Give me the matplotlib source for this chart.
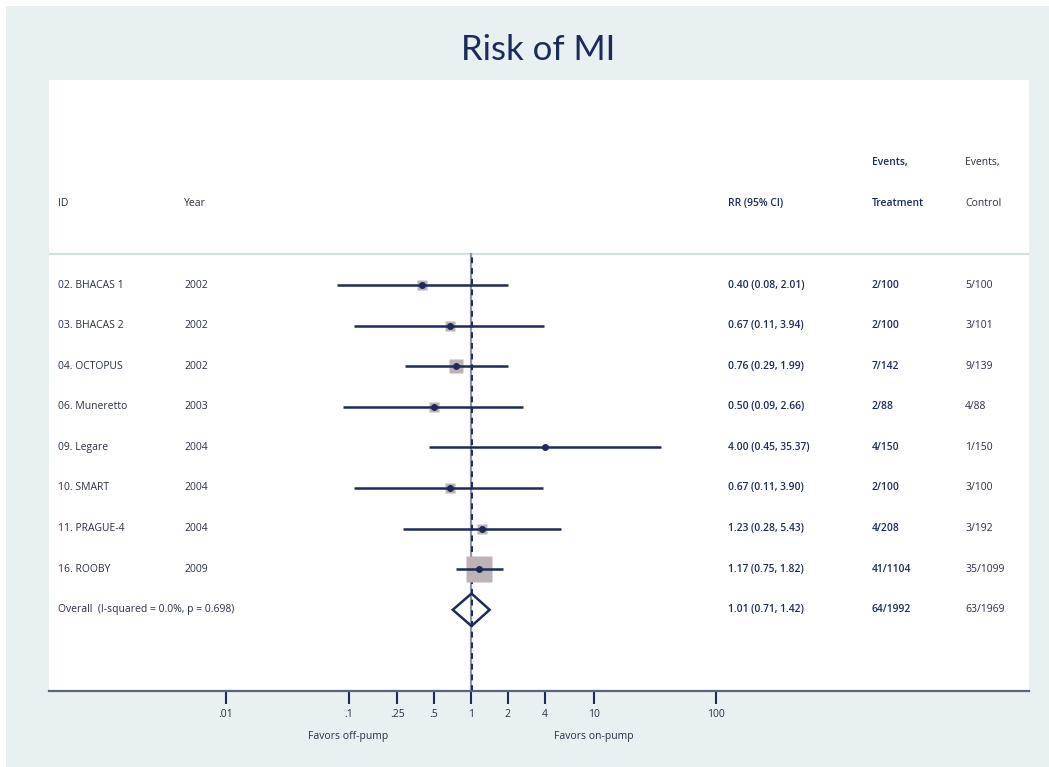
import numpy as np
import matplotlib
matplotlib.use("Agg")
import matplotlib.pyplot as plt
from matplotlib.patches import Polygon, Rectangle
from matplotlib.transforms import blended_transform_factory

# ---------------- data ----------------
study_ids = ["02. BHACAS 1", "03. BHACAS 2", "04. OCTOPUS", "06. Muneretto",
             "09. Legare", "10. SMART", "11. PRAGUE-4", "16. ROOBY"]
years = ["2002", "2002", "2002", "2003", "2004", "2004", "2004", "2009"]
rr = [0.40, 0.67, 0.76, 0.50, 4.00, 0.67, 1.23, 1.17]
ci_low = [0.08, 0.11, 0.29, 0.09, 0.45, 0.11, 0.28, 0.75]
ci_high = [2.01, 3.94, 1.99, 2.66, 35.37, 3.90, 5.43, 1.82]
weights = [7.9, 7.1, 16.0, 7.1, 1.1, 7.1, 6.4, 47.0]
events_treat = ["2/100", "2/100", "7/142", "2/88", "4/150", "2/100", "4/208", "41/1104"]
events_ctrl = ["5/100", "3/101", "9/139", "4/88", "1/150", "3/100", "3/192", "35/1099"]

overall_label = "Overall  (I-squared = 0.0%, p = 0.698)"
overall_rr = 1.01
overall_low = 0.71
overall_high = 1.42
overall_treat = "64/1992"
overall_ctrl = "63/1969"

tick_values = [0.01, 0.1, 0.25, 0.5, 1, 2, 4, 10, 100]
tick_labels = [".01", ".1", ".25", ".5", "1", "2", "4", "10", "100"]
favors_left = "Favors off-pump"
favors_right = "Favors on-pump"
title = "Risk of MI"

# ---------------- styling ----------------
W, H, DPI = 1049, 767, 100
NAVY = "#1c2b5a"
TXT = "#2a2f45"
BOXC = "#bdb3b5"
BG = "#e8f0f2"
FONT = ["Open Sans", "DejaVu Sans"]
plt.rcParams["font.family"] = FONT

fig = plt.figure(figsize=(W / DPI, H / DPI), dpi=DPI, facecolor=BG)
# thin white border at top and left
fig.patches.append(Rectangle((0, 1 - 6 / H), 1, 6 / H, transform=fig.transFigure,
                             facecolor="white", edgecolor="none", zorder=0))
fig.patches.append(Rectangle((0, 0), 6 / W, 1, transform=fig.transFigure,
                             facecolor="white", edgecolor="none", zorder=0))

px_left, px_right, px_top, px_bottom = 49, 1029, 80, 691
ax = fig.add_axes([px_left / W, 1 - px_bottom / H, (px_right - px_left) / W,
                   (px_bottom - px_top) / H])
ax.set_facecolor("white")

# x: log scale, 1 at pixel 471, 122.5 px per decade
dec = 122.5
x_one = 471
ax.set_xscale("log")
ax.set_xlim(10 ** ((px_left - x_one) / dec), 10 ** ((px_right - x_one) / dec))
row0, rstep = 285, 40.6
ax.set_ylim((px_bottom - row0) / rstep, (px_top - row0) / rstep)

for s in ["top", "left", "right"]:
    ax.spines[s].set_visible(False)
ax.spines["bottom"].set_color("#5a6480")
ax.spines["bottom"].set_linewidth(1.6)
ax.set_yticks([])
ax.set_xticks(tick_values)
ax.set_xticklabels(tick_labels)
ax.xaxis.set_minor_locator(matplotlib.ticker.NullLocator())
ax.tick_params(axis="x", direction="out", length=9, width=1.5, color=NAVY,
               labelsize=7.5, labelcolor=TXT, pad=4)

n = len(study_ids)
rows = np.arange(n)

# separator line
sep_y = (254 - row0) / rstep
ax.axhline(sep_y, color="#d3dede", lw=1.6, zorder=1)

# null line and overall dashed line
ax.plot([1, 1], [ax.get_ylim()[0], sep_y], color="#8e95ad", lw=1.6, zorder=2)
ax.plot([overall_rr, overall_rr], [ax.get_ylim()[0], sep_y], color=NAVY, lw=1.4,
        dashes=(3, 2.5), zorder=2)

# study boxes, CI lines, points
k = 25.7 / np.sqrt(max(weights)) * 72 / DPI
for i in range(n):
    side = k * np.sqrt(weights[i])
    ax.plot([rr[i]], [rows[i]], marker="s", ms=side, color=BOXC, mec="none", zorder=3)
    ax.plot([ci_low[i], ci_high[i]], [rows[i], rows[i]], color=NAVY, lw=1.8,
            solid_capstyle="butt", zorder=4)
    ax.plot([rr[i]], [rows[i]], marker="o", ms=5, color=NAVY, mec="none", zorder=5)

# overall diamond
yo = n
hh = 0.4
diamond = Polygon([[overall_low, yo], [overall_rr, yo - hh], [overall_high, yo],
                   [overall_rr, yo + hh]], closed=True, fill=False,
                  edgecolor=NAVY, lw=1.8, zorder=5)
ax.add_patch(diamond)

# text columns
tr = blended_transform_factory(ax.transAxes, ax.transData)
def colx(px):
    return (px - px_left) / (px_right - px_left)

fs = 7.5
fsb = 7.4
x_id, x_year, x_rr, x_tr, x_ct = colx(58), colx(184), colx(728), colx(872), colx(965)
hdr1 = (163 - row0) / rstep
hdr2 = (204 - row0) / rstep
ax.text(x_id, hdr2, "ID", transform=tr, fontsize=fs, color=TXT, va="center")
ax.text(x_year, hdr2, "Year", transform=tr, fontsize=fs, color=TXT, va="center")
ax.text(x_rr, hdr2, "RR (95% CI)", transform=tr, fontsize=fsb, color=NAVY,
        va="center", fontweight="semibold")
ax.text(x_tr, hdr1, "Events,", transform=tr, fontsize=fsb, color=NAVY,
        va="center", fontweight="semibold")
ax.text(x_tr, hdr2, "Treatment", transform=tr, fontsize=fsb, color=NAVY,
        va="center", fontweight="semibold")
ax.text(x_ct, hdr1, "Events,", transform=tr, fontsize=fs, color=TXT, va="center")
ax.text(x_ct, hdr2, "Control", transform=tr, fontsize=fs, color=TXT, va="center")

for i in range(n):
    ax.text(x_id, rows[i], study_ids[i], transform=tr, fontsize=fs, color=TXT, va="center")
    ax.text(x_year, rows[i], years[i], transform=tr, fontsize=fs, color=TXT, va="center")
    ax.text(x_rr, rows[i], f"{rr[i]:.2f} ({ci_low[i]:.2f}, {ci_high[i]:.2f})",
            transform=tr, fontsize=fsb, color=NAVY, va="center", fontweight="semibold")
    ax.text(x_tr, rows[i], events_treat[i], transform=tr, fontsize=fsb, color=NAVY,
            va="center", fontweight="semibold")
    ax.text(x_ct, rows[i], events_ctrl[i], transform=tr, fontsize=fs, color=TXT, va="center")

ax.text(x_id, yo, overall_label, transform=tr, fontsize=fs, color=TXT, va="center")
ax.text(x_rr, yo, f"{overall_rr:.2f} ({overall_low:.2f}, {overall_high:.2f})",
        transform=tr, fontsize=fsb, color=NAVY, va="center", fontweight="semibold")
ax.text(x_tr, yo, overall_treat, transform=tr, fontsize=fsb, color=NAVY,
        va="center", fontweight="semibold")
ax.text(x_ct, yo, overall_ctrl, transform=tr, fontsize=fs, color=TXT, va="center")

# favors labels
trb = blended_transform_factory(ax.transData, fig.transFigure)
ax.text(0.1, 1 - 736 / H, favors_left, transform=trb, fontsize=fs, color=TXT,
        ha="center", va="center")
ax.text(10, 1 - 736 / H, favors_right, transform=trb, fontsize=fs, color=TXT,
        ha="center", va="center")

fig.text(538 / W, 1 - 50 / H, title, fontsize=25, color=NAVY, ha="center",
         va="center", family=["Lato", "DejaVu Sans"])

fig.savefig("out.png", dpi=DPI, facecolor=fig.get_facecolor())
